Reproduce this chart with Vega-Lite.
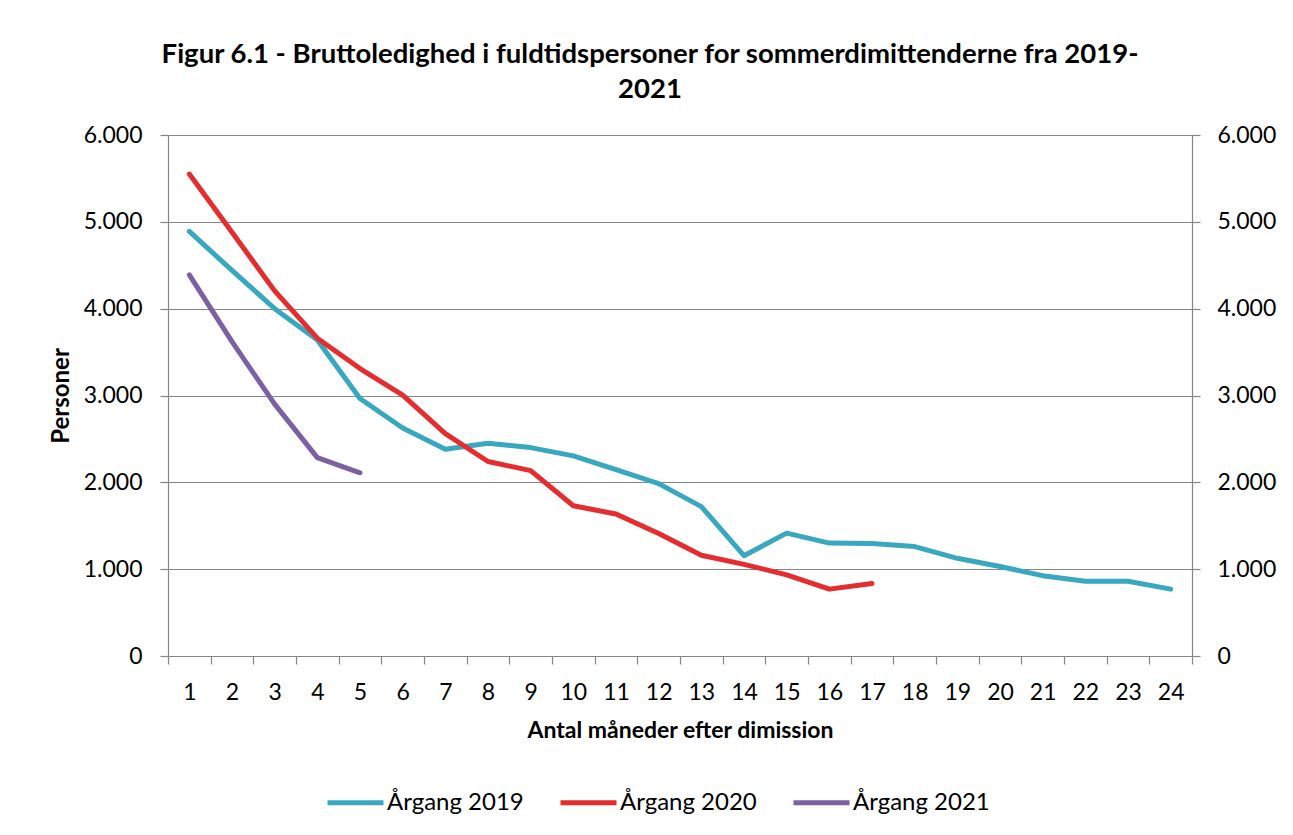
{
  "$schema": "https://vega.github.io/schema/vega-lite/v6.json",
  "width": 1024,
  "height": 521,
  "autosize": "none",
  "padding": {"left": 168, "top": 135, "right": 101, "bottom": 179},
  "background": "white",
  "title": {
    "text": ["Figur 6.1 - Bruttoledighed i fuldtidspersoner for sommerdimittenderne fra 2019-", "2021"],
    "font": "Lato", "fontSize": 27.5, "fontWeight": "bold", "color": "black",
    "anchor": "middle", "dx": -30, "lineHeight": 35, "offset": 21
  },
  "config": {
    "view": {"stroke": null},
    "axis": {
      "domainColor": "#868686", "tickColor": "#868686", "gridColor": "#868686",
      "domainWidth": 1.2, "tickWidth": 1.2, "gridWidth": 1.2,
      "labelFont": "Lato", "labelFontSize": 23, "labelColor": "black",
      "titleFont": "Lato", "titleFontSize": 23, "titleFontWeight": "bold", "titleColor": "black"
    }
  },
  "data": {"values": [
    {"maaned": 1, "aargang": "Årgang 2019", "personer": 4890},
    {"maaned": 2, "aargang": "Årgang 2019", "personer": 4440},
    {"maaned": 3, "aargang": "Årgang 2019", "personer": 4000},
    {"maaned": 4, "aargang": "Årgang 2019", "personer": 3640},
    {"maaned": 5, "aargang": "Årgang 2019", "personer": 2965},
    {"maaned": 6, "aargang": "Årgang 2019", "personer": 2625},
    {"maaned": 7, "aargang": "Årgang 2019", "personer": 2380},
    {"maaned": 8, "aargang": "Årgang 2019", "personer": 2450},
    {"maaned": 9, "aargang": "Årgang 2019", "personer": 2400},
    {"maaned": 10, "aargang": "Årgang 2019", "personer": 2305},
    {"maaned": 11, "aargang": "Årgang 2019", "personer": 2145},
    {"maaned": 12, "aargang": "Årgang 2019", "personer": 1985},
    {"maaned": 13, "aargang": "Årgang 2019", "personer": 1720},
    {"maaned": 14, "aargang": "Årgang 2019", "personer": 1155},
    {"maaned": 15, "aargang": "Årgang 2019", "personer": 1415},
    {"maaned": 16, "aargang": "Årgang 2019", "personer": 1300},
    {"maaned": 17, "aargang": "Årgang 2019", "personer": 1295},
    {"maaned": 18, "aargang": "Årgang 2019", "personer": 1260},
    {"maaned": 19, "aargang": "Årgang 2019", "personer": 1125},
    {"maaned": 20, "aargang": "Årgang 2019", "personer": 1030},
    {"maaned": 21, "aargang": "Årgang 2019", "personer": 925},
    {"maaned": 22, "aargang": "Årgang 2019", "personer": 860},
    {"maaned": 23, "aargang": "Årgang 2019", "personer": 860},
    {"maaned": 24, "aargang": "Årgang 2019", "personer": 770},
    {"maaned": 1, "aargang": "Årgang 2020", "personer": 5550},
    {"maaned": 2, "aargang": "Årgang 2020", "personer": 4880},
    {"maaned": 3, "aargang": "Årgang 2020", "personer": 4205},
    {"maaned": 4, "aargang": "Årgang 2020", "personer": 3660},
    {"maaned": 5, "aargang": "Årgang 2020", "personer": 3310},
    {"maaned": 6, "aargang": "Årgang 2020", "personer": 3005},
    {"maaned": 7, "aargang": "Årgang 2020", "personer": 2560},
    {"maaned": 8, "aargang": "Årgang 2020", "personer": 2240},
    {"maaned": 9, "aargang": "Årgang 2020", "personer": 2135},
    {"maaned": 10, "aargang": "Årgang 2020", "personer": 1730},
    {"maaned": 11, "aargang": "Årgang 2020", "personer": 1635},
    {"maaned": 12, "aargang": "Årgang 2020", "personer": 1410},
    {"maaned": 13, "aargang": "Årgang 2020", "personer": 1160},
    {"maaned": 14, "aargang": "Årgang 2020", "personer": 1055},
    {"maaned": 15, "aargang": "Årgang 2020", "personer": 935},
    {"maaned": 16, "aargang": "Årgang 2020", "personer": 770},
    {"maaned": 17, "aargang": "Årgang 2020", "personer": 835},
    {"maaned": 1, "aargang": "Årgang 2021", "personer": 4390},
    {"maaned": 2, "aargang": "Årgang 2021", "personer": 3620},
    {"maaned": 3, "aargang": "Årgang 2021", "personer": 2900},
    {"maaned": 4, "aargang": "Årgang 2021", "personer": 2285},
    {"maaned": 5, "aargang": "Årgang 2021", "personer": 2110}
  ]},
  "encoding": {
    "x": {
      "field": "maaned", "type": "ordinal",
      "scale": {"type": "band", "paddingInner": 0, "paddingOuter": 0},
      "axis": {
        "title": "Antal måneder efter dimission", "labelAngle": 0,
        "tickBand": "extent", "tickSize": 8, "labelPadding": 17, "titlePadding": 15
      }
    },
    "color": {
      "field": "aargang", "type": "nominal",
      "scale": {"domain": ["Årgang 2019", "Årgang 2020", "Årgang 2021"], "range": ["#38A8C1", "#E52D2D", "#7D5FA3"]},
      "legend": {
        "title": null, "orient": "none", "direction": "horizontal",
        "legendX": 157, "legendY": 637,
        "symbolType": "stroke", "symbolSize": 3136, "symbolStrokeWidth": 5,
        "labelFont": "Lato", "labelFontSize": 24, "labelColor": "black",
        "labelOffset": 1, "columnPadding": 26, "labelLimit": 300
      }
    }
  },
  "layer": [
    {
      "mark": {"type": "line", "strokeWidth": 5, "strokeCap": "round", "strokeJoin": "round"},
      "encoding": {
        "y": {
          "field": "personer", "type": "quantitative",
          "scale": {"domain": [0, 6000], "nice": false},
          "axis": {
            "title": "Personer", "orient": "left", "grid": true, "titleFontSize": 24,
            "values": [0, 1000, 2000, 3000, 4000, 5000, 6000],
            "tickSize": 8, "labelPadding": 18, "titlePadding": 10,
            "labelExpr": "replace(format(datum.value, ','), ',', '.')"
          }
        }
      }
    },
    {
      "mark": {"type": "line", "opacity": 0},
      "encoding": {
        "y": {
          "field": "personer", "type": "quantitative",
          "scale": {"domain": [0, 6000], "nice": false},
          "axis": {
            "title": null, "orient": "right", "grid": false,
            "values": [0, 1000, 2000, 3000, 4000, 5000, 6000],
            "tickSize": 8, "labelPadding": 17,
            "labelExpr": "replace(format(datum.value, ','), ',', '.')"
          }
        }
      }
    }
  ],
  "resolve": {"scale": {"y": "independent"}}
}
